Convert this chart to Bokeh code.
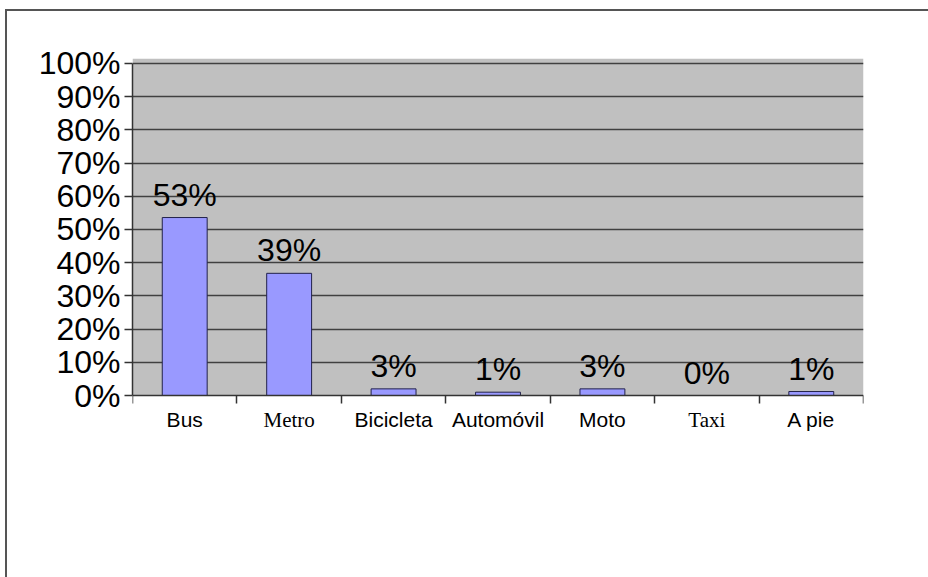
from bokeh.plotting import figure
from bokeh.models import Range1d, FixedTicker, PrintfTickFormatter, BoxAnnotation, ColumnDataSource
from bokeh.core.properties import value
from bokeh.embed import file_html
from bokeh.resources import INLINE

categories = ["Bus", "Metro", "Bicicleta", "Automóvil", "Moto", "Taxi", "A pie"]
shares = [53.6, 36.8, 2.0, 1.0, 2.0, 0.0, 1.2]
share_labels = ["53%", "39%", "3%", "1%", "3%", "0%", "1%"]
y_ticks = [0, 10, 20, 30, 40, 50, 60, 70, 80, 90, 100]

SERIF = {"Metro", "Taxi"}
SANS = "Liberation Sans"
SERIF_FONT = "Liberation Serif"

xs = [i + 0.5 for i in range(len(categories))]
fonts = [SERIF_FONT if c in SERIF else SANS for c in categories]
src = ColumnDataSource(dict(x=xs, top=shares, lab=share_labels, cat=categories,
                            base=[0] * len(categories), font=fonts))

k = 337 / 101.5  # px per percent
p = figure(output_backend="svg", toolbar_location=None,
           frame_width=731, frame_height=400,
           min_border_left=125, min_border_top=47, min_border_right=65, min_border_bottom=119,
           x_range=Range1d(0, len(categories)), y_range=Range1d(-63 / k, 101.5))
p.styles = {"margin-left": "5px", "margin-top": "9px",
            "border-top": "2px solid #555555", "border-left": "2px solid #555555"}
p.background_fill_color = "white"
p.border_fill_color = "white"
p.outline_line_color = None

bg = BoxAnnotation(bottom=0, fill_color="#c0c0c0", fill_alpha=1.0, line_color=None, level="image")
p.add_layout(bg)

p.xgrid.visible = False
p.ygrid.ticker = FixedTicker(ticks=y_ticks[1:])
p.ygrid.grid_line_color = "#404040"
p.ygrid.grid_line_width = 1.5

p.vbar(x="x", top="top", bottom=0, width=0.43, source=src,
       fill_color="#9999ff", line_color="#22224a", line_width=1)

p.text(x="x", y="top", text="lab", source=src, text_align="center",
       text_baseline="alphabetic", y_offset=-23,
       text_font=value(SANS), text_font_size="32px", text_color="black")

p.text(x="x", y="base", text="cat", source=src, text_align="center",
       text_baseline="alphabetic", y_offset=24,
       text_font="font", text_font_size="21px", text_color="black")

ya = p.yaxis[0]
ya.ticker = FixedTicker(ticks=y_ticks)
ya.bounds = (0, 100)
ya.formatter = PrintfTickFormatter(format="%d%%")
ya.major_label_text_font = SANS
ya.major_label_text_font_size = "32px"
ya.major_label_text_color = "black"
ya.major_label_standoff = 4
ya.major_tick_out = 8
ya.major_tick_in = 0
ya.minor_tick_line_color = None
ya.axis_line_color = "#333333"
ya.axis_line_width = 1.5
ya.major_tick_line_color = "#333333"
ya.major_tick_line_width = 1.5

xa = p.xaxis[0]
xa.fixed_location = 0
xa.ticker = FixedTicker(ticks=[], minor_ticks=list(range(len(categories) + 1)))
xa.minor_tick_out = 8
xa.minor_tick_in = 0
xa.minor_tick_line_color = "#333333"
xa.minor_tick_line_width = 1.5
xa.axis_line_color = "#333333"
xa.axis_line_width = 1.5

open("out.html", "w").write(file_html(p, INLINE))
